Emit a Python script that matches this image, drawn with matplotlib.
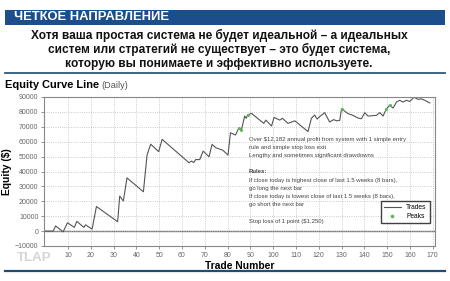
import matplotlib
matplotlib.use('Agg')
import matplotlib.pyplot as plt
from matplotlib.patches import Rectangle
from matplotlib.lines import Line2D

plt.rcParams['font.family'] = ['Liberation Sans', 'DejaVu Sans']

# data
trade_no = [0, 3.5, 4.6, 7.9, 9.8, 12.8, 13.9, 17.0, 17.7, 20.6,
            22.5, 31.8, 32.7, 34.3, 35.9, 43.1, 44.7, 46.3, 49.8, 51.3,
            63.1, 64.2, 65.2, 66.0, 67.8, 69.3, 71.9, 73.2, 74.8, 78.0,
            80.2, 81.3, 83.5, 84.9, 86.1, 87.5, 88.2, 88.8, 90.5, 95.9,
            96.8, 99.3, 100.4, 102.9, 104.1, 106.5, 109.5, 115.3, 116.8, 118.2,
            119.3, 120.4, 122.6, 124.8, 126.5, 128.0, 129.2, 130.0, 132.9, 135.0,
            137.2, 138.7, 140.2, 141.6, 145.3, 146.8, 148.2, 149.7, 151.1, 152.6,
            154.1, 155.5, 157.0, 158.4, 159.9, 161.8, 163.6, 165.0, 166.5, 168.7]
equity = [0, 0, 3400, -500, 5600, 2500, 6500, 2500, 4200, 1300,
          16500, 6300, 23500, 20200, 35700, 26400, 51000, 58300, 53300, 61600,
          45900, 47000, 46000, 48000, 48000, 53700, 49900, 58200, 56000, 54200,
          51000, 66000, 64500, 69000, 67800, 77200, 75700, 78000, 79000, 72300,
          74500, 70500, 76300, 74500, 75700, 72300, 74000, 66800, 75700, 77900,
          75200, 76800, 79500, 73200, 74800, 74000, 74300, 82100, 78800, 77700,
          75900, 75400, 79500, 77200, 77700, 79500, 77200, 82100, 84400, 82600,
          86600, 87800, 86600, 87800, 87000, 89800, 88400, 88800, 87800, 86000]
peak_no = [84.9, 86.1, 88.8, 130.0, 149.7, 151.1]
peak_eq = [69000, 67800, 78000, 82100, 82100, 84400]

xticks = list(range(10, 171, 10))
yticks = list(range(-10000, 90001, 10000))

notes = ["Over $12,182 annual profit from system with 1 simple entry",
         "rule and simple stop loss exit",
         "Lengthy and sometimes significant drawdowns",
         "",
         "Rules:",
         "If close today is highest close of last 1.5 weeks (8 bars),",
         "go long the next bar",
         "If close today is lowest close of last 1.5 weeks (8 bars),",
         "go short the next bar",
         "",
         "Stop loss of 1 point ($1,250)"]

W, H = 450, 281
fig = plt.figure(figsize=(W / 100, H / 100), dpi=100)


def fy(py):
    return 1 - py / H


# header
fig.patches.append(Rectangle((5 / W, fy(25)), 440 / W, 15 / H, transform=fig.transFigure,
                             facecolor='#1c4e8c', edgecolor='none'))
fig.text(14 / W, fy(17.5), 'ЧЕТКОЕ НАПРАВЛЕНИЕ', color='white', fontsize=9.4,
         fontweight='bold', va='center', ha='left')
sub = ['Хотя ваша простая система не будет идеальной – а идеальных',
       'систем или стратегий не существует – это будет система,',
       'которую вы понимаете и эффективно используете.']
for i, s in enumerate(sub):
    fig.text(219 / W, fy(35 + 14.5 * i), s, fontsize=8.6, fontweight='bold',
             ha='center', va='center', color='#111111')
fig.lines.append(Line2D([5 / W, 445 / W], [fy(73), fy(73)], transform=fig.transFigure,
                        color='#2f5878', lw=1.3))
fig.text(5 / W, fy(85), 'Equity Curve Line', fontsize=7.9, fontweight='bold', va='center')
fig.text(101 / W, fy(85), '(Daily)', fontsize=6.6, color='#555555', va='center')

# chart
ax = fig.add_axes([44 / W, fy(246), 391 / W, 149 / H])
ax.plot(trade_no, equity, color='#555555', lw=0.8, label='Trades')
ax.plot(peak_no, peak_eq, ls='none', marker='o', ms=2.2, color='#5cb85c', mec='none', label='Peaks')
ax.axhline(0, color='#777777', lw=1.0, zorder=1)

ax.set_xlim(-0.5, 171)
ax.set_ylim(-10000, 90000)
ax.set_xticks(xticks)
ax.set_yticks(yticks)
ax.tick_params(labelsize=5, colors='#666666', length=2, width=0.5, pad=2)
ax.grid(True, ls=':', color='#bbbbbb', lw=0.6)
for s in ax.spines.values():
    s.set_color('#888888')
    s.set_linewidth(0.8)
ax.set_xlabel('Trade Number', fontsize=7.4, fontweight='bold', labelpad=2)
ax.set_ylabel('Equity ($)', fontsize=7.4, fontweight='bold', labelpad=2)

for i, n in enumerate(notes):
    ax.text(0.524, 0.717 - i * 0.055, n, transform=ax.transAxes, fontsize=4.3,
            color='#444444', fontweight='bold' if n == 'Rules:' else 'normal', va='center')

leg = ax.legend(loc='lower right', bbox_to_anchor=(0.995, 0.13), fontsize=4.8,
                frameon=True, fancybox=False, handlelength=2.5, borderpad=0.5,
                labelspacing=0.3, markerscale=1.2)
leg.get_frame().set_edgecolor('#111111')
leg.get_frame().set_linewidth(1.0)

fig.text(17 / W, fy(258), 'TLAP', fontsize=9.5, fontweight='bold', color='#d4d4d4', va='center')
fig.lines.append(Line2D([5 / W, 445 / W], [fy(271), fy(271)], transform=fig.transFigure,
                        color='#1e4d78', lw=1.6))

fig.savefig('out.png', dpi=100)
